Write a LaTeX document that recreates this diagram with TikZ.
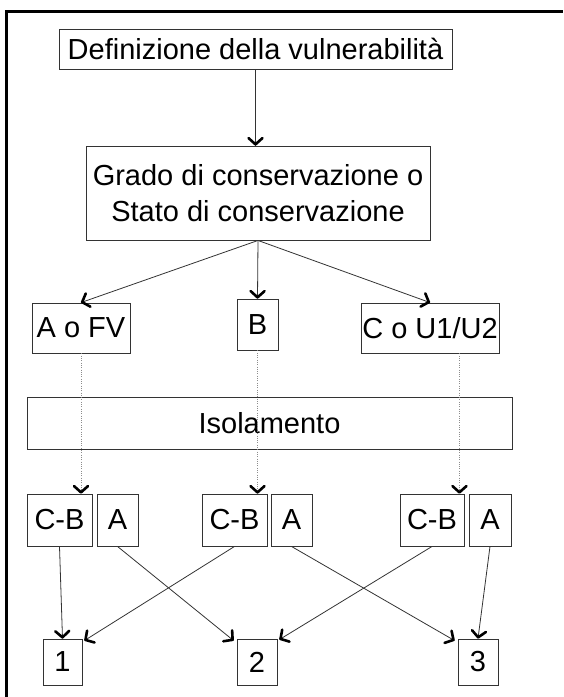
\documentclass[tikz,border=0pt]{standalone}
\usepackage{fontspec}
\setmainfont{Liberation Sans}
\usetikzlibrary{decorations.markings}
\tikzset{
  box/.style={draw=black!80, line width=0.9pt, inner sep=0pt, align=center,
    font=\fontsize{29}{36}\selectfont},
  % bold open chevron at the end of a connector
  chevron/.style={postaction={decorate, decoration={markings,
      mark=at position 1 with {\draw[black, solid, line width=2.6pt, line cap=round, line join=round]
        (-7.5pt,7pt) -- (-1.2pt,0pt) -- (-7.5pt,-7pt);}}}},
  flow/.style={draw=black!80, line width=0.8pt, chevron},
  guide/.style={draw=black!45, line width=0.8pt, dash pattern=on 1pt off 1.3pt, chevron},
  frame/.style={line width=3pt, black}
}
\begin{document}
\begin{tikzpicture}[x=1pt,y=-1pt]
\useasboundingbox (0,0) rectangle (563,697);
% cropped outer frame
\draw[frame] (6.5,697) -- (6.5,11) -- (563,11);

% top boxes
\node[box, minimum width=393pt, minimum height=40pt] (def) at (255.5,49) {Definizione della vulnerabilità};
\node[box, minimum width=344pt, minimum height=94pt] (grado) at (258,193) {Grado di conservazione o\\Stato di conservazione};

% classes
\node[box, minimum width=98pt, minimum height=50pt] (afv) at (81,328) {A o FV};
\node[box, minimum width=41pt, minimum height=51pt] (b) at (257.5,324.5) {B};
\node[box, minimum width=138pt, minimum height=50pt] (cu) at (430,328) {C o U1/U2};

% isolation band
\node[box, minimum width=485pt, minimum height=52pt] (iso) at (269.5,423) {Isolamento};

% isolation classes
\node[box, minimum width=65pt, minimum height=52pt] (cb1) at (59.5,520) {C-B};
\node[box, minimum width=41pt, minimum height=52pt] (a1) at (117.5,520) {A};
\node[box, minimum width=65pt, minimum height=52pt] (cb2) at (234.5,520) {C-B};
\node[box, minimum width=41pt, minimum height=52pt] (a2) at (291.5,520) {A};
\node[box, minimum width=64pt, minimum height=52pt] (cb3) at (432,520) {C-B};
\node[box, minimum width=42pt, minimum height=52pt] (a3) at (490,520) {A};

% vulnerability levels
\node[box, minimum width=39pt, minimum height=46pt] (n1) at (62.5,662) {1};
\node[box, minimum width=40pt, minimum height=46pt] (n2) at (257,662) {2};
\node[box, minimum width=40pt, minimum height=46pt] (n3) at (478,662) {3};

% connectors
\draw[flow] (def.south) -- (def.south |- grado.north);
\draw[flow] (grado.south) -- (afv.north);
\draw[flow] (grado.south) -- (b.north);
\draw[flow] (grado.south) -- (cu.north);

\draw[guide] (afv.south) -- (afv.south |- cb1.north);
\draw[guide] (b.south) -- (b.south |- cb2.north);
\draw[guide] ([xshift=-5pt]cb3.north east |- cu.south) -- ([xshift=-5pt]cb3.north east);

\draw[flow] (cb1.south) -- (n1.north);
\draw[flow] (a1.south) -- ([xshift=-3pt,yshift=-2pt]n2.north west);
\draw[flow] (cb2.south) -- ([xshift=2pt,yshift=-2pt]n1.north east);
\draw[flow] (a2.south) -- ([xshift=-3pt,yshift=-2pt]n3.north west);
\draw[flow] (cb3.south) -- ([xshift=2pt,yshift=-1pt]n2.north east);
\draw[flow] (a3.south) -- (n3.north);
\end{tikzpicture}
\end{document}
